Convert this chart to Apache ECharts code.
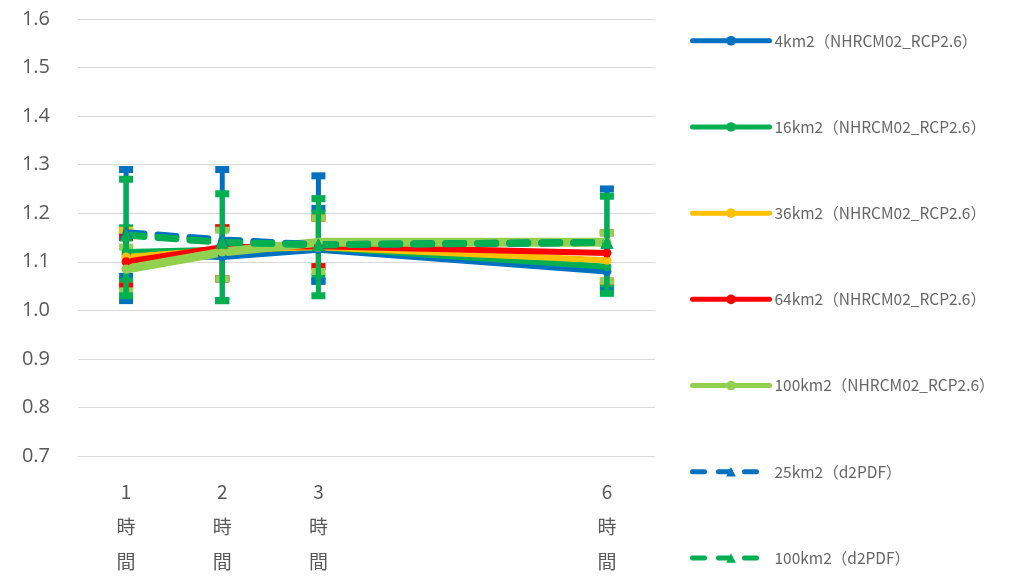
<!DOCTYPE html>
<html><head><meta charset="utf-8">
<script src="https://cdn.jsdelivr.net/npm/echarts@6/dist/echarts.min.js"></script>
<style>html,body{margin:0;padding:0;background:#fff}#c{width:1011px;height:588px}</style>
</head><body><div id="c"></div>
<script>
// Data
const hours = [1, 2, 3, 6];
const yTicks = [0.7, 0.8, 0.9, 1.0, 1.1, 1.2, 1.3, 1.4, 1.5, 1.6];
const names = ['4km2（NHRCM02_RCP2.6）','16km2（NHRCM02_RCP2.6）','36km2（NHRCM02_RCP2.6）','64km2（NHRCM02_RCP2.6）','100km2（NHRCM02_RCP2.6）','25km2（d2PDF）','100km2（d2PDF）'];
const mean4   = [1.115, 1.110, 1.125, 1.080];
const mean16  = [1.120, 1.125, 1.130, 1.090];
const mean36  = [1.110, 1.125, 1.130, 1.103];
const mean64  = [1.100, 1.130, 1.132, 1.118];
const mean100 = [1.085, 1.120, 1.140, 1.140];
const meanD25  = [1.160, 1.145, 1.135, 1.140];
const meanD100 = [1.155, 1.140, 1.135, 1.140];
const low4   = [1.070, 1.065, 1.060, 1.050];
const high4  = [1.160, 1.170, 1.210, 1.160];
const low16  = [1.060, 1.065, 1.070, 1.050];
const high16 = [1.170, 1.170, 1.200, 1.160];
const low36  = [1.050, 1.065, 1.090, 1.060];
const high36 = [1.165, 1.170, 1.190, 1.160];
const low64  = [1.050, 1.065, 1.090, 1.060];
const high64 = [1.150, 1.170, 1.190, 1.160];
const low100 = [1.040, 1.065, 1.080, 1.060];
const high100= [1.130, 1.165, 1.190, 1.160];
const lowD25  = [1.020, 1.020, 1.060, 1.040];
const highD25 = [1.290, 1.290, 1.277, 1.250];
const lowD100 = [1.030, 1.020, 1.030, 1.035];
const highD100= [1.270, 1.240, 1.230, 1.235];

const colors = ['#0070C0','#00B050','#FFC000','#FF0000','#92D050','#0070C0','#00B050'];
const means = [mean4, mean16, mean36, mean64, mean100, meanD25, meanD100];
const lows = [low4, low16, low36, low64, low100, lowD25, lowD100];
const highs = [high4, high16, high36, high64, high100, highD25, highD100];

const maxHour = Math.max(...hours);
const cats = [];
for (let h = 1; h <= maxHour; h++) cats.push(String(h));
function toSlots(arr){
  const out = cats.map(()=>null);
  hours.forEach((h,i)=>{ out[h-1] = arr[i]; });
  return out;
}

function errSeries(k){
  return {
    type:'custom', name:'err'+k, silent:true,
    data: hours.map((h,i)=>[h-1, lows[k][i], highs[k][i]]),
    renderItem:(params, api)=>{
      const x = api.value(0);
      const lo = api.coord([x, api.value(1)]);
      const hi = api.coord([x, api.value(2)]);
      const w = 7, st = {stroke: colors[k], lineWidth: 5};
      return {type:'group', children:[
        {type:'line', shape:{x1:lo[0],y1:lo[1],x2:hi[0],y2:hi[1]}, style:st},
        {type:'line', shape:{x1:lo[0]-w,y1:lo[1],x2:lo[0]+w,y2:lo[1]}, style:{stroke:colors[k],lineWidth:7}},
        {type:'line', shape:{x1:hi[0]-w,y1:hi[1],x2:hi[0]+w,y2:hi[1]}, style:{stroke:colors[k],lineWidth:7}}
      ]};
    },
    encode:{x:0, y:[1,2]}
  };
}
function lineWidth(k){ return k===4 ? 9 : (k>=5 ? 7 : 6); }
function lineSeries(k){
  const dashed = k >= 5;
  return {
    type:'line', name:names[k], data: toSlots(means[k]), connectNulls:true,
    symbol: dashed ? 'triangle' : 'circle', symbolSize: dashed ? 13 : 9,
    itemStyle:{color:colors[k]},
    lineStyle:{color:colors[k], width: lineWidth(k), type: dashed ? [18,14] : 'solid', cap:'round'},
    emphasis:{disabled:true}
  };
}
const series = [];
for (let k=0;k<5;k++) series.push(errSeries(k));
for (let k=0;k<5;k++) series.push(lineSeries(k));
series.push(errSeries(5)); series.push(lineSeries(5));
series.push(errSeries(6)); series.push(lineSeries(6));

const chart = echarts.init(document.getElementById('c'));
chart.setOption({
  animation:false,
  textStyle:{fontFamily:'"Noto Sans CJK JP", "Open Sans", sans-serif'},
  grid:{left:78, right:356, top:19, bottom:132},
  legend:{
    data:names.map((n,k)=>({name:n, lineStyle:{width:5, cap:'round', type: k>=5 ? [12,14] : 'solid'}})),
    orient:'vertical', left:690, top:33, padding:0,
    itemWidth:77, itemHeight:12, itemGap:70.7,
    textStyle:{fontSize:15.5, lineHeight:12, color:'#666666', fontFamily:'"Noto Sans CJK JP", sans-serif'}
  },
  xAxis:{
    type:'category', data:cats, boundaryGap:true,
    axisLine:{show:true, lineStyle:{color:'#d9d9d9'}}, axisTick:{show:false},
    axisLabel:{
      interval:0, margin:18, color:'#595959', fontSize:19, lineHeight:35,
      fontFamily:'"Noto Sans CJK JP", sans-serif',
      formatter:(v)=> hours.includes(Number(v)) ? v + '\n時\n間' : ''
    }
  },
  yAxis:{
    type:'value', min:yTicks[0], max:yTicks[yTicks.length-1], interval:0.1,
    axisLine:{show:false}, axisTick:{show:false},
    splitLine:{lineStyle:{color:'#d9d9d9', width:1}},
    axisLabel:{margin:28, color:'#595959', fontSize:20, fontFamily:'"Open Sans", sans-serif',
      formatter:(v)=>v.toFixed(1)}
  },
  series: series
});
</script></body></html>
